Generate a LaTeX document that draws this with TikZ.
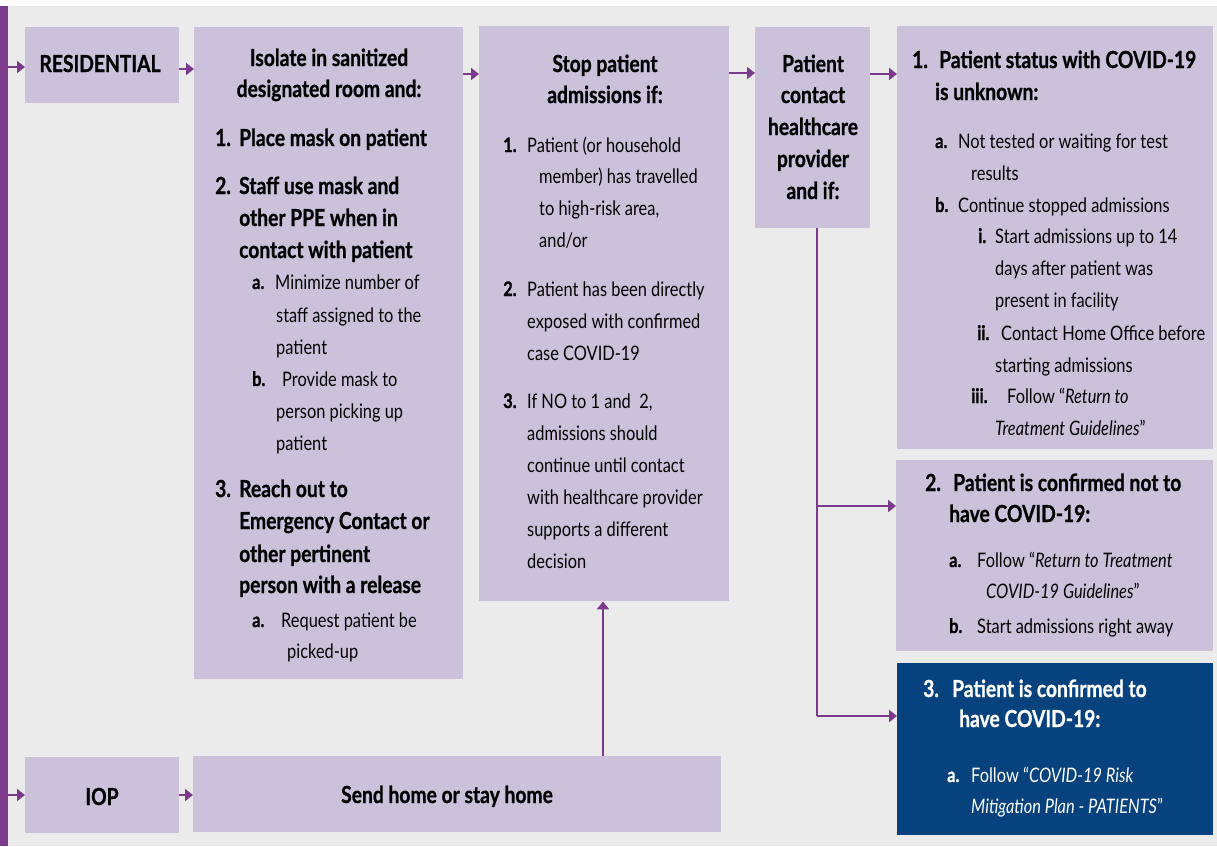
\documentclass[tikz,border=0pt]{standalone}
\usepackage{fontspec}
\setmainfont{Lato}[FakeStretch=0.82, BoldFeatures={FakeBold=0.8}]
\usetikzlibrary{arrows.meta}
\definecolor{bgray}{HTML}{EBEBEB}
\definecolor{plum}{HTML}{7B3A8C}
\definecolor{lilac}{HTML}{CBC1DB}
\definecolor{navy}{HTML}{06427E}
% label set flush left, a fixed distance before the line text
\newcommand\lab[2]{\llap{\makebox[#1pt][l]{\bfseries #2}}}
\tikzset{
  box/.style={fill=lilac, draw=none, inner sep=0pt, anchor=north west},
  arr/.style={draw=plum, line width=2.4pt, -{Triangle[length=8pt,width=12pt]}},
  wire/.style={draw=plum, line width=2.4pt},
  ln/.style={anchor=base west, inner sep=0pt, font=\fontsize{20}{24}\selectfont},
  hd/.style={anchor=base west, inner sep=0pt, font=\fontsize{23.5}{28}\selectfont\bfseries},
  hdc/.style={hd, anchor=base},
}
\begin{document}
\begin{tikzpicture}[x=1pt, y=-1pt]
\useasboundingbox (0,0) rectangle (1217,846);
\fill[white] (0,0) rectangle (1217,846);
\fill[bgray] (0,6) rectangle (1217,846);
\node[fill=plum, inner sep=0pt, minimum width=8pt, minimum height=840pt, anchor=north west] (bar) at (0,6) {};

% boxes
\node[box, minimum width=154pt, minimum height=76pt]  (res)  at (25,27) {};
\node[box, minimum width=269pt, minimum height=652pt] (iso)  at (194,27) {};
\node[box, minimum width=250pt, minimum height=575pt] (stop) at (479,26) {};
\node[box, minimum width=115pt, minimum height=201pt] (cpp)  at (755,27) {};
\node[box, minimum width=316pt, minimum height=423pt] (s1)   at (897,26) {};
\node[box, minimum width=317pt, minimum height=191pt] (s2)   at (896,460) {};
\node[box, fill=navy, minimum width=316pt, minimum height=172pt] (s3) at (897,663) {};
\node[box, minimum width=154pt, minimum height=76pt]  (iop)  at (25,757) {};
\node[box, minimum width=528pt, minimum height=76pt]  (send) at (193,756) {};

% RESIDENTIAL / IOP / send home
\node[hdc] (tres)  at (100,72) {RESIDENTIAL};
\node[hdc] (tiop)  at (102,805) {IOP};
\node[hdc] (tsend) at (447,803) {Send home or stay home};

% isolate
\node[hdc] (i01) at (329,66) {Isolate in sanitized};
\node[hdc] (i02) at (329,97) {designated room and:};
\node[hd]  (i03) at (239,146) {\lab{24}{1.}Place mask on patient};
\node[hd]  (i04) at (239,194) {\lab{24}{2.}Staff use mask and};
\node[hd]  (i05) at (239,226) {other PPE when in};
\node[hd]  (i06) at (239,258) {contact with patient};
\node[ln]  (i07) at (275,289) {\lab{23}{a.}Minimize number of};
\node[ln]  (i08) at (276,322) {staff assigned to the};
\node[ln]  (i09) at (276,354) {patient};
\node[ln]  (i10) at (282,386) {\lab{30}{b.}Provide mask to};
\node[ln]  (i11) at (276,418) {person picking up};
\node[ln]  (i12) at (276,450) {patient};
\node[hd]  (i13) at (239,497) {\lab{24}{3.}Reach out to};
\node[hd]  (i14) at (239,529) {Emergency Contact or};
\node[hd]  (i15) at (239,562) {other pertinent};
\node[hd]  (i16) at (239,593) {person with a release};
\node[ln]  (i17) at (281,627) {\lab{29}{a.}Request patient be};
\node[ln]  (i18) at (287,658) {picked-up};

% stop admissions
\node[hdc] (p01) at (605,72) {Stop patient};
\node[hdc] (p02) at (605,103) {admissions if:};
\node[ln]  (p03) at (527,152) {\lab{24}{1.}Patient (or household};
\node[ln]  (p04) at (539,183) {member) has travelled};
\node[ln]  (p05) at (539,215) {to high-risk area,};
\node[ln]  (p06) at (539,247) {and/or};
\node[ln]  (p07) at (527,296) {\lab{24}{2.}Patient has been directly};
\node[ln]  (p08) at (527,328) {exposed with confirmed};
\node[ln]  (p09) at (527,360) {case COVID-19};
\node[ln]  (p10) at (527,408) {\lab{24}{3.}If NO to 1 and\ \ 2,};
\node[ln]  (p11) at (527,440) {admissions should};
\node[ln]  (p12) at (527,472) {continue until contact};
\node[ln]  (p13) at (527,504) {with healthcare provider};
\node[ln]  (p14) at (527,536) {supports a different};
\node[ln]  (p15) at (527,568) {decision};

% contact provider
\node[hdc] (c01) at (813,72) {Patient};
\node[hdc] (c02) at (813,103) {contact};
\node[hdc] (c03) at (813,135) {healthcare};
\node[hdc] (c04) at (813,167) {provider};
\node[hdc] (c05) at (813,199) {and if:};

% status unknown
\node[hd] (u01) at (939,68) {\lab{27}{1.}Patient status with COVID-19};
\node[hd] (u02) at (935,100) {is unknown:};
\node[ln] (u03) at (958,148) {\lab{23}{a.}Not tested or waiting for test};
\node[ln] (u04) at (971,180) {results};
\node[ln] (u05) at (958,212) {\lab{23}{b.}Continue stopped admissions};
\node[ln] (u06) at (995,243) {\lab{17}{i.}Start admissions up to 14};
\node[ln] (u07) at (995,275) {days after patient was};
\node[ln] (u08) at (995,307) {present in facility};
\node[ln] (u09) at (1001,340) {\lab{24}{ii.}Contact Home Office before};
\node[ln] (u10) at (995,372) {starting admissions};
\node[ln] (u11) at (1007,403) {\lab{36}{iii.}Follow “\textit{Return to}};
\node[ln] (u12) at (995,435) {\textit{Treatment\ Guidelines}”};

% confirmed negative
\node[hd] (n01) at (953,491) {\lab{28}{2.}Patient is confirmed not to};
\node[hd] (n02) at (949,522) {have COVID-19:};
\node[ln] (n03) at (977,567) {\lab{28}{a.}Follow “\textit{Return to Treatment}};
\node[ln] (n04) at (986,598) {\textit{COVID-19 Guidelines}”};
\node[ln] (n05) at (977,633) {\lab{28}{b.}Start admissions right away};

% confirmed positive
\begin{scope}[every node/.append style={text=white}]
\node[hd] (q01) at (952,697) {\lab{29}{3.}Patient is confirmed to};
\node[hd] (q02) at (959,727) {have COVID-19:};
\node[ln] (q03) at (971,782) {\lab{24}{a.}Follow “\textit{COVID-19 Risk}};
\node[ln] (q04) at (971,813) {\textit{Mitigation Plan - PATIENTS}”};
\end{scope}

% connectors
\coordinate (r1) at (0,67);
\coordinate (r2) at (0,69);
\coordinate (r3) at (0,74);
\coordinate (r4) at (0,73);
\coordinate (r5) at (0,795);
\coordinate (trunk) at (817,716);
\coordinate (fork) at (817,506);
\coordinate (up) at (603,0);
\draw[arr] (bar.east |- r1) -- (res.west |- r1);
\draw[arr] (res.east |- r2) -- (iso.west |- r2);
\draw[arr] (iso.east |- r3) -- (stop.west |- r3);
\draw[arr] (stop.east |- r4) -- (cpp.west |- r4);
\draw[arr] (cpp.east |- r3) -- (s1.west |- r3);
\draw[wire] (cpp.south -| trunk) -- (trunk);
\draw[arr] (trunk) -- (trunk -| s3.west);
\draw[arr] (fork) -- (fork -| s2.west);
\draw[arr] (bar.east |- r5) -- (iop.west |- r5);
\draw[arr] (iop.east |- r5) -- (send.west |- r5);
\draw[arr] (send.north -| up) -- (stop.south -| up);
\end{tikzpicture}
\end{document}
